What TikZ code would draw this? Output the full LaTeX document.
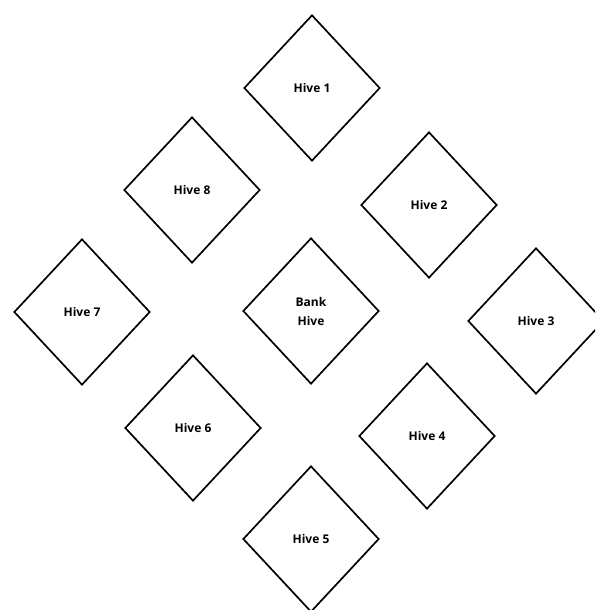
\documentclass[tikz,border=0pt]{standalone}
\usepackage{fontspec}
\setmainfont{Open Sans}
\usetikzlibrary{shapes.geometric}
\tikzset{
	hive/.style={diamond, draw=black, line width=1.7pt, inner sep=0pt,
		minimum width=136pt, minimum height=146pt, align=center,
		font=\bfseries\fontsize{12}{19}\selectfont}
}
\begin{document}
\begin{tikzpicture}[x=1pt, y=-1pt]
		\useasboundingbox (0,0) rectangle (595,610);
		\clip (0,0) rectangle (595,610);
		\node[hive] (h1) at (312,88) {Hive 1};
		\node[hive] (h2) at (429,205) {Hive 2};
		\node[hive] (h3) at (536,321) {Hive 3};
		\node[hive] (h4) at (427,436) {Hive 4};
		\node[hive] (h5) at (311,539) {Hive 5};
		\node[hive] (h6) at (193,428) {Hive 6};
		\node[hive] (h7) at (82,312) {Hive 7};
		\node[hive] (h8) at (192,190) {Hive 8};
		\node[hive] (bank) at (311,311) {Bank\\Hive};
	\end{tikzpicture}
\end{document}
